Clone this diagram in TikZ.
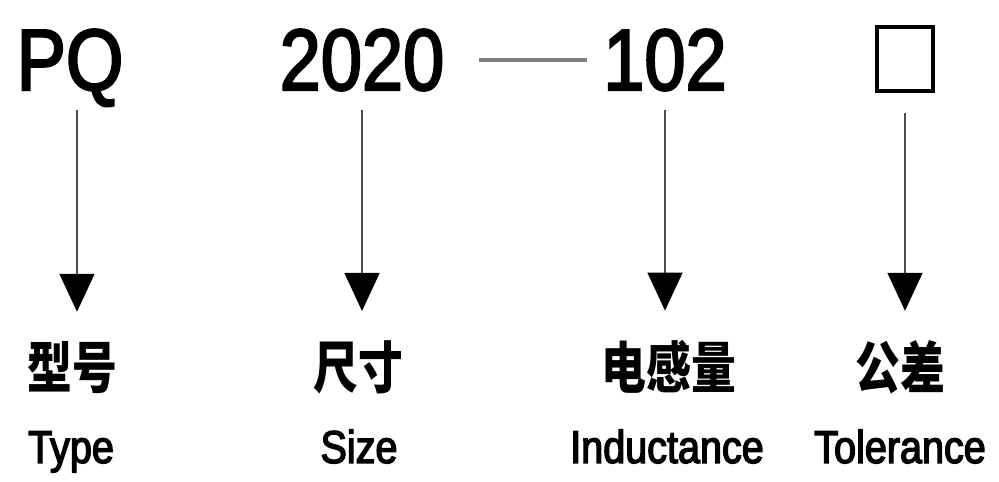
\documentclass[tikz,border=0pt]{standalone}
\usepackage{fontspec}
\setmainfont{Liberation Sans}
\newfontfamily\codefont[FakeStretch=0.85,FakeBold=2.5]{Liberation Sans}
\newfontfamily\labfont[FakeStretch=0.86,FakeBold=3]{Liberation Sans}
\newfontfamily\cjk[FakeStretch=0.8]{Noto Sans CJK SC}
\usetikzlibrary{arrows.meta}

\begin{document}
\begin{tikzpicture}[x=1pt,y=1pt,
  code/.style={font=\codefont\fontsize{87}{87}\selectfont, inner sep=0pt, text depth=0pt, anchor=base},
  cn/.style={font=\cjk\bfseries\fontsize{56}{56}\selectfont, inner sep=0pt, anchor=base},
  en/.style={font=\labfont\fontsize{46}{46}\selectfont, inner sep=0pt, anchor=base},
  down/.style={draw=black!70, line width=1.6pt, -{Triangle[width=35pt,length=38pt,color=black]},
    shorten <=20pt, shorten >=30pt},
  dashline/.style={draw=black!50, line width=4pt, shorten <=35pt, shorten >=16pt}]
\useasboundingbox (0,0) rectangle (999,482);
% code parts
\node [code] (pq) at (70,392) {PQ};
\node [code] (size) at (362,392) {2020};
\node [code] (ind) at (665,392) {102};
\node [draw, line width=3.5pt, minimum width=56pt, minimum height=64pt, inner sep=0pt] (tol) at (905,423) {};
\draw [dashline] (size.east) -- (ind.west);
% labels
\node [cn] (cnpq) at (72,93) {型号};
\node [cn] (cnsize) at (358,93) {尺寸};
\node [cn] (cnind) at (669,93) {电感量};
\node [cn] (cntol) at (900,93) {公差};
\node [en] (enpq) at (71,19) {Type};
\node [en] (ensize) at (359,19) {Size};
\node [en] (enind) at (667,19) {Inductance};
\node [en] (entol) at (900,19) {Tolerance};
% arrows
\draw [down] ([xshift=7pt]pq.south) -- ([xshift=7pt]pq.south |- cnpq.north);
\draw [down] (size.south) -- (size.south |- cnsize.north);
\draw [down] (ind.south) -- (ind.south |- cnind.north);
\draw [down] (tol.south) -- (tol.south |- cntol.north);
\end{tikzpicture}
\end{document}
